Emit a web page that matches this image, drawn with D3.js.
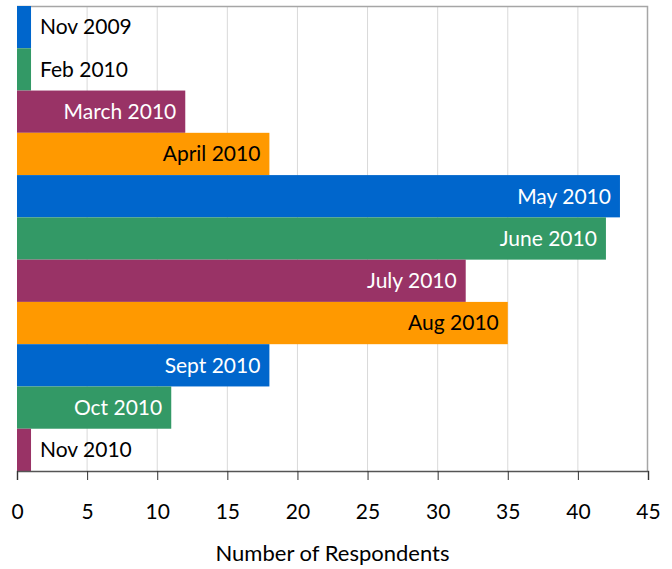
<!DOCTYPE html>
<html>
<head>
<meta charset="utf-8">
<script src="https://cdn.jsdelivr.net/npm/d3@7"></script>
<style>
  body { margin: 0; background: #fff; }
  svg { display: block; font-family: Lato, "Open Sans", sans-serif; }
</style>
</head>
<body>
<svg id="chart"></svg>
<script>
const categories = ["Nov 2009", "Feb 2010", "March 2010", "April 2010", "May 2010", "June 2010",
                    "July 2010", "Aug 2010", "Sept 2010", "Oct 2010", "Nov 2010"];
const respondents = [1, 1, 12, 18, 43, 42, 32, 35, 18, 11, 1];
const xTicks = [0, 5, 10, 15, 20, 25, 30, 35, 40, 45];
const barColors = ["#0066cc", "#339966", "#993366", "#ff9900"];
const labelColors = ["#fff", "#fff", "#fff", "#000"];

const width = 672, height = 569;
const margin = {top: 6, right: 24, bottom: 98, left: 17};

const svg = d3.select("#chart")
    .attr("width", width)
    .attr("height", height);

const x = d3.scaleLinear()
    .domain([0, 45])
    .range([margin.left, width - margin.right]);

const y = d3.scaleBand()
    .domain(categories)
    .range([margin.top, height - margin.bottom])
    .padding(0);

// gridlines
svg.append("g")
    .selectAll("line")
    .data(xTicks.slice(1, -1))
    .enter()
    .append("line")
    .attr("x1", d => x(d)).attr("x2", d => x(d))
    .attr("y1", margin.top).attr("y2", height - margin.bottom)
    .attr("stroke", "#d9d9d9")
    .attr("stroke-width", 1);

// frame top/right
svg.append("path")
    .attr("d", `M${x(0)},${margin.top + 0.5}H${x(45) - 0.5}V${height - margin.bottom}`)
    .attr("fill", "none")
    .attr("stroke", "#a6a6a6")
    .attr("stroke-width", 1.5);

// bars
svg.append("g")
    .selectAll("rect")
    .data(respondents)
    .enter()
    .append("rect")
    .attr("x", x(0))
    .attr("y", (d, i) => y(categories[i]))
    .attr("width", d => x(d) - x(0))
    .attr("height", y.bandwidth())
    .attr("fill", (d, i) => barColors[i % 4]);

// labels
svg.append("g")
    .selectAll("text")
    .data(respondents)
    .enter()
    .append("text")
    .attr("y", (d, i) => y(categories[i]) + y.bandwidth() / 2)
    .attr("dy", "0.35em")
    .attr("font-size", 21)
    .attr("x", d => d > 5 ? x(d) - 9 : x(d) + 9)
    .attr("text-anchor", d => d > 5 ? "end" : "start")
    .attr("fill", (d, i) => d > 5 ? labelColors[i % 4] : "#000")
    .text((d, i) => categories[i]);

// x axis
const axis = svg.append("g")
    .attr("transform", `translate(0,${height - margin.bottom})`)
    .call(d3.axisBottom(x).tickValues(xTicks).tickSize(9).tickPadding(24));
axis.select(".domain").attr("stroke", "#555").attr("stroke-width", 1.5);
axis.selectAll(".tick line").attr("stroke", "#333");
axis.selectAll(".tick text")
    .attr("font-size", 21)
    .attr("font-family", "Lato, 'Open Sans', sans-serif")
    .attr("fill", "#000");

svg.append("text")
    .attr("x", (x(0) + x(45)) / 2)
    .attr("y", 561)
    .attr("text-anchor", "middle")
    .attr("font-size", 22)
    .text("Number of Respondents");
</script>
</body>
</html>
